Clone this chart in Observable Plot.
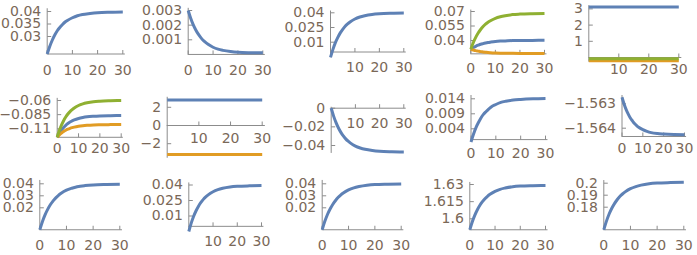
<!DOCTYPE html>
<html><head><meta charset="utf-8">
<script src="https://cdn.jsdelivr.net/npm/d3@7"></script>
<script src="https://cdn.jsdelivr.net/npm/@observablehq/plot@0.6"></script>
<style>
html,body{margin:0;padding:0;background:#fff;}
#chart{position:relative;width:697px;height:255px;overflow:hidden;background:#fff;}
#chart > svg{position:absolute;overflow:visible;}
</style></head><body><div id="chart"></div>
<script>
// ---- data ----
const tGrid = [0,1,2,3,4,5,6,7,8,10,12,14,17,20,25,30];
const tFlat = [0,30];

const p1Blue = [.0230,.0260,.0285,.0306,.0323,.0336,.0347,.0357,.0364,.0375,.0383,.0388,.0392,.0395,.0397,.0398];
const p2Blue = [.00300,.00247,.00204,.00169,.00140,.00117,.00097,.00082,.00069,.00049,.00036,.00028,.00020,.00015,.00012,.00011];
const p3Blue = [-.0055,.0027,.0095,.0149,.0195,.0231,.0262,.0286,.0306,.0337,.0357,.0370,.0383,.0390,.0395,.0397];
const p4Blue = [.0310,.0327,.0340,.0351,.0361,.0368,.0374,.0379,.0383,.0390,.0394,.0396,.0399,.0400,.0401,.0402];
const p4Orange = [.0310,.0302,.0295,.0290,.0285,.0282,.0279,.0276,.0274,.0271,.0269,.0268,.0267,.0266,.0265,.0265];
const p4Green = [.0310,.0377,.0432,.0477,.0514,.0544,.0569,.0589,.0605,.0630,.0646,.0657,.0668,.0673,.0677,.0679];
const p5Blue = [3.12,3.12];
const p5Orange = [-0.2,-0.2];
const p5Green = [-0.08,-0.08];
const p6Blue = [-.1250,-.1180,-.1123,-.1076,-.1038,-.1007,-.0981,-.0960,-.0943,-.0917,-.0900,-.0888,-.0878,-.0872,-.0868,-.0866];
const p6Orange = [-.1250,-.1209,-.1175,-.1148,-.1125,-.1107,-.1092,-.1080,-.1070,-.1055,-.1045,-.1038,-.1031,-.1028,-.1026,-.1025];
const p6Green = [-.1250,-.1132,-.1036,-.0957,-.0892,-.0839,-.0796,-.0761,-.0731,-.0688,-.0659,-.0640,-.0621,-.0612,-.0605,-.0601];
const p7Blue = [2.8,2.8];
const p7Orange = [-3.2,-3.2];
const p8Blue = [0,-.0085,-.0155,-.0212,-.0259,-.0297,-.0329,-.0354,-.0375,-.0407,-.0427,-.0441,-.0454,-.0462,-.0467,-.0469];
const p9Blue = [-.0004,.0022,.0044,.0061,.0076,.0088,.0097,.0105,.0112,.0121,.0128,.0132,.0136,.0138,.0140,.0141];
const p10Blue = [-1.56273,-1.56301,-1.56324,-1.56342,-1.56358,-1.56370,-1.56381,-1.56389,-1.56396,-1.56406,-1.56413,-1.56418,-1.56422,-1.56424,-1.56426,-1.56427];
const p11Blue = [.0017,.0086,.0143,.0189,.0227,.0258,.0283,.0304,.0321,.0347,.0363,.0375,.0385,.0391,.0395,.0397];
const p12Blue = [-.0050,.0031,.0097,.0151,.0195,.0231,.0261,.0285,.0305,.0335,.0355,.0368,.0380,.0387,.0392,.0394];
const p13Blue = [.0017,.0087,.0144,.0190,.0228,.0259,.0285,.0306,.0323,.0349,.0366,.0377,.0388,.0394,.0397,.0399];
const p14Blue = [1.5904,1.5974,1.6032,1.6079,1.6118,1.6150,1.6176,1.6197,1.6214,1.6240,1.6258,1.6269,1.6280,1.6286,1.6290,1.6292];
const p15Blue = [.1612,.1684,.1743,.1791,.1830,.1862,.1889,.1910,.1928,.1955,.1972,.1984,.1995,.2001,.2005,.2007];

const xTicksAll = [0,10,20,30];
const xLabelsAll = ["0","10","20","30"];
const xTicksNoZero = [10,20,30];
const xLabelsNoZero = ["10","20","30"];

const yTicks1 = [0.03,0.035,0.04], yLabels1 = ["0.03","0.035","0.04"];
const yTicks2 = [0.001,0.002,0.003], yLabels2 = ["0.001","0.002","0.003"];
const yTicks3 = [0.01,0.025,0.04], yLabels3 = ["0.01","0.025","0.04"];
const yTicks4 = [0.04,0.055,0.07], yLabels4 = ["0.04","0.055","0.07"];
const yTicks5 = [1,2,3], yLabels5 = ["1","2","3"];
const yTicks6 = [-0.11,-0.085,-0.06], yLabels6 = ["\u22120.11","\u22120.085","\u22120.06"];
const yTicks7 = [-2,0,2], yLabels7 = ["\u22122","0","2"];
const yTicks8 = [-0.04,-0.02,0], yLabels8 = ["\u22120.04","\u22120.02","0"];
const yTicks9 = [0.004,0.009,0.014], yLabels9 = ["0.004","0.009","0.014"];
const yTicks10 = [-1.564,-1.563], yLabels10 = ["\u22121.564","\u22121.563"];
const yTicks11 = [0.02,0.03,0.04], yLabels11 = ["0.02","0.03","0.04"];
const yTicks12 = [0.01,0.025,0.04], yLabels12 = ["0.01","0.025","0.04"];
const yTicks13 = [0.02,0.03,0.04], yLabels13 = ["0.02","0.03","0.04"];
const yTicks14 = [1.6,1.615,1.63], yLabels14 = ["1.6","1.615","1.63"];
const yTicks15 = [0.18,0.19,0.2], yLabels15 = ["0.18","0.19","0.2"];

// ---- style ----
const BLUE="#5E81B5", ORANGE="#E19C24", GREEN="#8FB032";
const AXIS="#8c8c8c", LABEL="#7a6858";
const FONT="DejaVu Sans";

// ---- layout (pixel placement per panel) ----
const panels = [
 {ox:0,  oy:0, xr:[46.7,122.3], yd:[0.03,0.04], yr:[36,11], ax:0.023, ay:[0.023,0.0411], lblDy:16.5,
  xt:xTicksAll, xl:xLabelsAll, yt:yTicks1, yl:yLabels1, s:[[tGrid,p1Blue,BLUE]]},
 {ox:140,oy:0, xr:[47.7,122.3], yd:[0.001,0.003], yr:[39.3,10], ax:0, ay:[0,0.00315], lblDy:16,
  xt:xTicksAll, xl:xLabelsAll, yt:yTicks2, yl:yLabels2, s:[[tGrid,p2Blue,BLUE]]},
 {ox:280,oy:0, xr:[50,123.3], yd:[0.01,0.04], yr:[41.7,12.3], ax:0, ay:[-0.0058,0.0418], lblDy:16,
  xt:xTicksNoZero, xl:xLabelsNoZero, yt:yTicks3, yl:yLabels3, s:[[tGrid,p3Blue,BLUE]]},
 {ox:420,oy:0, xr:[50.3,124], yd:[0.04,0.07], yr:[40,11], ax:0.0262, ay:[0.0262,0.0715], lblDy:15,
  xt:xTicksAll, xl:xLabelsAll, yt:yTicks4, yl:yLabels4, s:[[tGrid,p4Blue,BLUE],[tGrid,p4Orange,ORANGE],[tGrid,p4Green,GREEN]]},
 {ox:560,oy:0, w:137, xr:[28.3,118.3], yd:[0,3], yr:[57,8.4], ax:0, ay:[-0.29,3.2], lblDy:12.5,
  xt:xTicksNoZero, xl:xLabelsNoZero, yt:yTicks5, yl:yLabels5, s:[[tFlat,p5Blue,BLUE],[tFlat,p5Orange,ORANGE],[tFlat,p5Green,GREEN]]},
 {ox:0,  oy:85, xr:[56.7,120.7], yd:[-0.11,-0.06], yr:[43.3,15], ax:-0.125, ay:[-0.125,-0.0562], lblDy:11.6,
  xt:xTicksAll, xl:xLabelsAll, yt:yTicks6, yl:yLabels6, s:[[tGrid,p6Blue,BLUE],[tGrid,p6Orange,ORANGE],[tGrid,p6Green,GREEN]]},
 {ox:140,oy:85, xr:[26.7,121.7], yd:[-2,2], yr:[58.2,21.8], ax:0, ay:[-3.6,3.1], lblDy:13.3,
  xt:xTicksNoZero, xl:xLabelsNoZero, yt:yTicks7, yl:yLabels7, s:[[tFlat,p7Blue,BLUE],[tFlat,p7Orange,ORANGE]]},
 {ox:280,oy:85, xr:[50.7,123.3], yd:[-0.04,0], yr:[60,22.7], ax:0, ay:[-0.0485,0.001], lblDy:15.7,
  xt:xTicksNoZero, xl:xLabelsNoZero, yt:yTicks8, yl:yLabels8, s:[[tGrid,p8Blue,BLUE]]},
 {ox:420,oy:85, xr:[50.5,125], yd:[0.004,0.014], yr:[43.3,13.3], ax:0.0004, ay:[-0.0005,0.0151], lblDy:14,
  xt:xTicksAll, xl:xLabelsAll, yt:yTicks9, yl:yLabels9, s:[[tGrid,p9Blue,BLUE]]},
 {ox:560,oy:85, w:137, xr:[61.5,124], yd:[-1.564,-1.563], yr:[42.7,18.3], ax:-1.56434, ay:[-1.56434,-1.56266], lblDy:12,
  xt:xTicksAll, xl:xLabelsAll, yt:yTicks10, yl:yLabels10, s:[[tGrid,p10Blue,BLUE]]},
 {ox:0,  oy:170, xr:[39.3,119.3], yd:[0.02,0.04], yr:[37.3,13.3], ax:0.0017, ay:[0.0017,0.0428], lblDy:15.7,
  xt:xTicksAll, xl:xLabelsAll, yt:yTicks11, yl:yLabels11, s:[[tGrid,p11Blue,BLUE]]},
 {ox:140,oy:170, xr:[48.3,121], yd:[0.01,0.04], yr:[45.5,14.5], ax:0, ay:[-0.005,0.042], lblDy:14.7,
  xt:xTicksNoZero, xl:xLabelsNoZero, yt:yTicks12, yl:yLabels12, s:[[tGrid,p12Blue,BLUE]]},
 {ox:280,oy:170, xr:[41.7,120.7], yd:[0.02,0.04], yr:[37.3,13.3], ax:0.0017, ay:[0.0017,0.0428], lblDy:15.7,
  xt:xTicksAll, xl:xLabelsAll, yt:yTicks13, yl:yLabels13, s:[[tGrid,p13Blue,BLUE]]},
 {ox:420,oy:170, xr:[49.3,125], yd:[1.6,1.63], yr:[48.3,14], ax:1.5904, ay:[1.5904,1.6318], lblDy:15.7,
  xt:xTicksAll, xl:xLabelsAll, yt:yTicks14, yl:yLabels14, s:[[tGrid,p14Blue,BLUE]]},
 {ox:560,oy:170, w:137, xr:[43.3,123.3], yd:[0.18,0.2], yr:[36.7,12.7], ax:0.1612, ay:[0.1612,0.2022], lblDy:15.7,
  xt:xTicksAll, xl:xLabelsAll, yt:yTicks15, yl:yLabels15, s:[[tGrid,p15Blue,BLUE]]}
];

const tickUp = {draw(ctx){ ctx.moveTo(0,0); ctx.lineTo(0,-4); }};
const tickRight = {draw(ctx){ ctx.moveTo(0,0); ctx.lineTo(4,0); }};

const chart = document.getElementById("chart");
for (const p of panels) {
  const lineMarks = p.s.map(([ts, vs, color]) =>
    Plot.line(ts.map((tt, i) => ({t: tt, v: vs[i]})), {
      x: "t", y: "v", stroke: color, strokeWidth: 3, curve: "monotone-x", strokeLinecap: "butt"
    }));
  const svg = Plot.plot({
    width: p.w || 140, height: 85,
    marginTop: 0, marginRight: 0, marginBottom: 0, marginLeft: 0,
    style: {background: "transparent", overflow: "visible"},
    x: {type: "linear", domain: [0, 30], range: p.xr, axis: null},
    y: {type: "linear", domain: p.yd, range: p.yr, axis: null},
    marks: [
      Plot.ruleY([p.ax], {x1: 0, x2: 31, stroke: AXIS, strokeWidth: 1}),
      Plot.ruleX([0], {y1: p.ay[0], y2: p.ay[1], stroke: AXIS, strokeWidth: 1}),
      Plot.dot(p.xt, {x: d => d, y: p.ax, symbol: tickUp, stroke: AXIS, fill: "none", strokeWidth: 1}),
      Plot.dot(p.yt, {x: 0, y: d => d, symbol: tickRight, stroke: AXIS, fill: "none", strokeWidth: 1}),
      ...lineMarks,
      Plot.text(p.xt, {x: d => d, y: p.ax, text: (d, i) => p.xl[i], dy: p.lblDy,
        fontSize: 14, fontFamily: FONT, fill: LABEL, textAnchor: "middle"}),
      Plot.text(p.yt, {x: 0, y: d => d, text: (d, i) => p.yl[i], dx: -6,
        fontSize: 14, fontFamily: FONT, fill: LABEL, textAnchor: "end"})
    ]
  });
  svg.style.left = p.ox + "px";
  svg.style.top = p.oy + "px";
  chart.appendChild(svg);
}
</script>
</body></html>
